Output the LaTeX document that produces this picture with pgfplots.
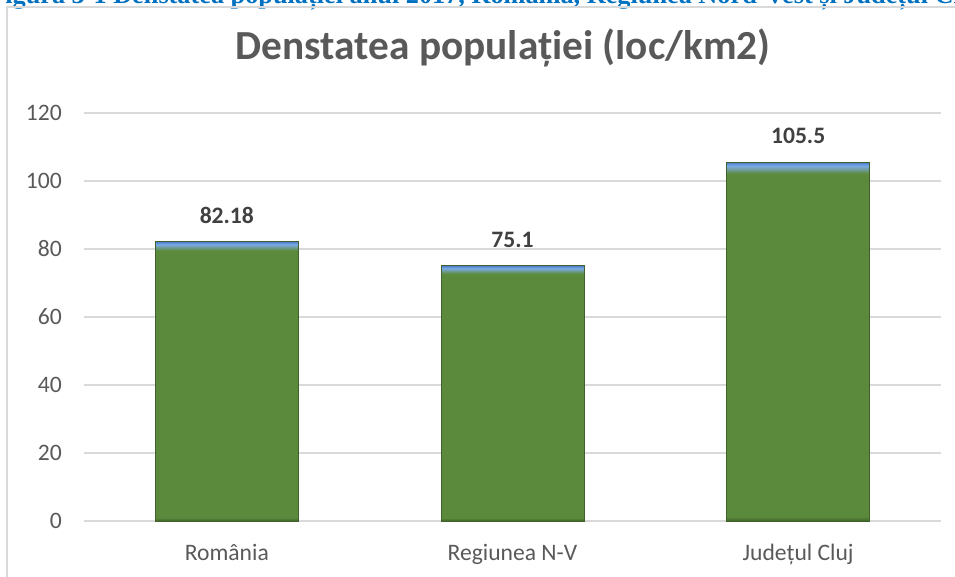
\documentclass[border=0pt]{standalone}
\usepackage{pgfplots}
\pgfplotsset{compat=1.18}
\usepackage{fontspec}
\setmainfont{Carlito}
\newfontfamily\capfont{Liberation Serif}
\definecolor{bargreen}{RGB}{92,138,60}
\definecolor{bardark}{RGB}{62,98,42}
\definecolor{barblue}{RGB}{125,172,232}
\definecolor{barblue2}{RGB}{72,122,205}
\definecolor{gridgray}{RGB}{217,217,217}
\definecolor{txtgray}{RGB}{89,89,89}
\definecolor{lblgray}{RGB}{64,64,64}
\definecolor{capblue}{RGB}{0,112,192}
\pgfdeclareverticalshading{barbevel}{100bp}{color(0bp)=(bardark); color(25bp)=(bardark); color(25.6bp)=(bargreen); color(73.4bp)=(bargreen); color(74.5bp)=(barblue); color(75bp)=(barblue2); color(100bp)=(barblue2)}
\pgfplotsset{
  barsty/.style={ybar, bar shift=0pt, bar width=107.25pt, shading=barbevel, draw=bardark, line width=0.6pt,
    nodes near coords, point meta=explicit symbolic,
    every node near coord/.append style={font=\bfseries\fontsize{17.7}{20}\selectfont, text=lblgray, inner sep=0pt, yshift=13.5pt}},
}
\begin{document}
\begin{tikzpicture}
\useasboundingbox (-63pt,-42pt) rectangle (653.25pt,390.75pt);
\begin{scope}
\clip (-63pt,-42pt) rectangle (653.25pt,390.75pt);
\node[anchor=base west, inner sep=0pt, font=\capfont\bfseries\fontsize{19.7}{22}\selectfont, text=capblue] at (-71.25pt,388pt) {Figura 3-1 Denstatea populației anul 2017, România, Regiunea Nord-Vest și Județul Cluj};
\end{scope}
\draw[gridgray, line width=1.1pt] (-57.75pt,-45pt) -- (-57.75pt,385.5pt) -- (660pt,385.5pt);
\begin{axis}[
  at={(0,0)}, anchor=south west,
  scale only axis, width=642.75pt, height=306pt,
  xmin=-0.5, xmax=2.5, ymin=0, ymax=120,
  xtick={0,1,2}, xticklabels={România, Regiunea N-V, Județul Cluj},
  ytick={0,20,...,120},
  major tick length=0pt,
  axis x line=bottom, axis y line=left,
  y axis line style={draw=none},
  x axis line style={draw=gridgray, line width=1.5pt, -},
  ymajorgrids, grid style={gridgray, line width=0.9pt},
  tick label style={font=\fontsize{17.7}{20}\selectfont, text=txtgray, inner sep=0pt},
  yticklabel style={anchor=east, xshift=-16.5pt},
  xticklabel style={anchor=base, yshift=-29.25pt},
  /pgf/number format/assume math mode=true,
  clip=false,
]
\addplot[barsty] coordinates {(0,82.18)[82.18]};
\addplot[barsty] coordinates {(1,75.1)[75.1]};
\addplot[barsty] coordinates {(2,105.5)[105.5]};
\end{axis}
\node[anchor=base, inner sep=0pt, font=\bfseries\fontsize{31}{34}\selectfont, text=txtgray] at (314.25pt,345.75pt) {Denstatea populației (loc/km2)};
\end{tikzpicture}
\end{document}
